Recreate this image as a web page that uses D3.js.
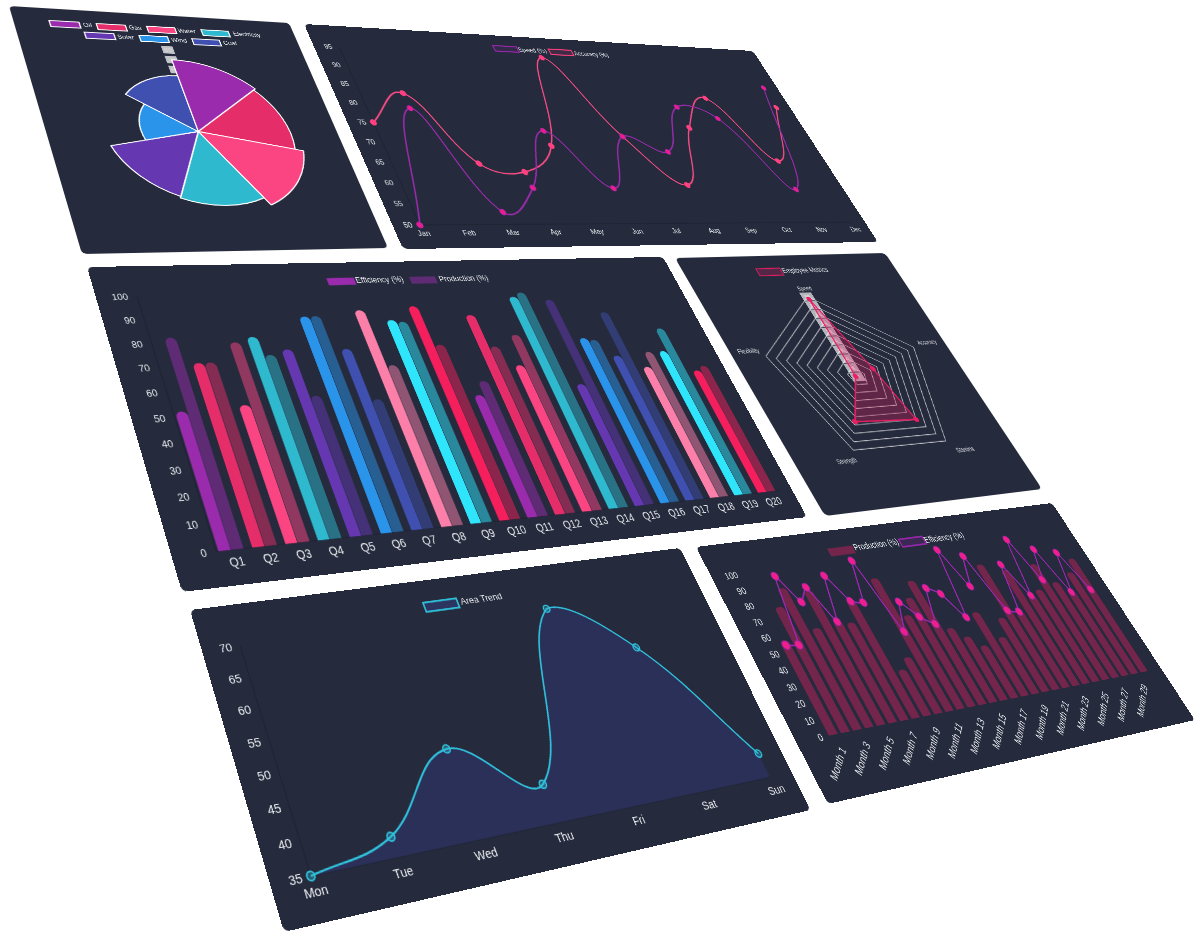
<!DOCTYPE html>
<html><head><meta charset="utf-8">
<script src="https://cdn.jsdelivr.net/npm/d3@7"></script>
<style>
html,body{margin:0;background:#fff;width:1200px;height:952px;overflow:hidden}
#stage{position:absolute;left:0;top:0;width:1200px;height:952px;filter:blur(.5px)}
.panel{position:absolute;left:0;top:0;background:#252a3c;border-radius:7px;transform-origin:0 0;overflow:hidden}
svg{display:block;font-family:"Liberation Sans",Arial,sans-serif}
text{fill:#eceef2}
</style></head><body><div id="stage"></div>
<script>
// ---------- data ----------
const polarLabels=["Oil","Gas","Water","Electricity","Solar","Wind","Coal"];
const polarValues=[70,68,74,67,65.5,40,54];
const polarTicks=[10,20,30,40,50,60,70,80];
const months12=["Jan","Feb","Mar","Apr","May","Jun","Jul","Aug","Sep","Oct","Nov","Dec"];
const speed=[50,79,53,59,74,59,73,69,82,79,59,89];
const accuracy=[75,83,65,63,70,95,73,60,76,85,67,83];
const lineTicks=[50,55,60,65,70,75,80,85,90,95];
const quarters=["Q1","Q2","Q3","Q4","Q5","Q6","Q7","Q8","Q9","Q10","Q11","Q12","Q13","Q14","Q15","Q16","Q17","Q18","Q19","Q20"];
const barEfficiency=[52,71,53,81,75,89,74,91,86,92,51,87,63,95,53,74,65,59,66,56];
const barProduction=[82,71,79,73,55,89,52,66,85,74,57,72,77,97,93,73,86,66,77,58];
const percentTicks=[0,10,20,30,40,50,60,70,80,90,100];
const radarLabels=["Speed","Accuracy","Stamina","Strength","Flexibility"];
const radarValues=[93.5,62,80,78,51];
const radarTicks=[55,60,65,70,75,80,85,90,95];
const monthLabels=d3.range(1,31).map(i=>"Month "+i);
const comboProduction=[57,77,88,61,84,63,61,75,28.5,35,86,60,70.5,81,48,41,34,55,37,49,85,51,79,60,63,80,66,58,71,80];
const comboEfficiency=[54,53,96,78,86.5,63,92,74,72,99,50.5,69,58,52,75,70,53,98.5,72,92,53,51,83,60,99,69,90,58,85.5,57.6];
const days=["Mon","Tue","Wed","Thu","Fri","Sat","Sun"];
const areaValues=[35,38,49,41,69,60,39];
const areaTicks=[35,40,45,50,55,60,65,70];
const palette=["#9a2bad","#e52d69","#fb4582","#2eb9cf","#6538b2","#2a93ea","#3f50b0","#fb7fa8","#2fe5fc","#f41f5c"];

// ---------- helpers ----------
function homography(q){const [[x0,y0],[x1,y1],[x2,y2],[x3,y3]]=q;
  const dx1=x1-x2,dx2=x3-x2,sx=x0-x1+x2-x3,dy1=y1-y2,dy2=y3-y2,sy=y0-y1+y2-y3,D=dx1*dy2-dx2*dy1;
  const g=(sx*dy2-dx2*sy)/D,h=(dx1*sy-sx*dy1)/D;
  return [x1-x0+g*x1,x3-x0+h*x3,x0,y1-y0+g*y1,y3-y0+h*y3,y0,g,h];}
function panel(q,W,H){const [a,b,c,d,e,f,g,h]=homography(q);
  const m=[a/W,d/W,0,g/W,b/H,e/H,0,h/H,0,0,1,0,c,f,0,1];
  const div=d3.select("#stage").append("div").attr("class","panel")
    .style("width",W+"px").style("height",H+"px").style("transform","matrix3d("+m.join(",")+")");
  return div.append("svg").attr("width",W).attr("height",H);}
// Spline with distance-weighted control points, capped to the plot area when bounds are given
function splineCurve(t,b){const cx=v=>b?Math.max(b[0],Math.min(b[1],v)):v,cy=v=>b?Math.max(b[2],Math.min(b[3],v)):v;
 return ctx=>{let P;return{
  lineStart(){P=[];},
  point(x,y){P.push([x,y]);},
  lineEnd(){if(!P.length)return;ctx.moveTo(P[0][0],P[0][1]);
    const cp=P.map((p,i)=>{const a=P[i-1]||p,n=P[i+1]||p,d1=Math.hypot(p[0]-a[0],p[1]-a[1]),d2=Math.hypot(n[0]-p[0],n[1]-p[1]),s=(d1+d2)||1;
      return{px:cx(p[0]-t*d1/s*(n[0]-a[0])),py:cy(p[1]-t*d1/s*(n[1]-a[1])),nx:cx(p[0]+t*d2/s*(n[0]-a[0])),ny:cy(p[1]+t*d2/s*(n[1]-a[1]))};});
    for(let i=1;i<P.length;i++)ctx.bezierCurveTo(cp[i-1].nx,cp[i-1].ny,cp[i].px,cp[i].py,P[i][0],P[i][1]);},
  areaStart(){},areaEnd(){}};};}
function label(svg,x,y,t,fs,sx){
  svg.append("text").attr("transform",`translate(${x},${y}) scale(${sx||1},1)`).attr("dy",".35em").attr("text-anchor","middle").attr("font-size",fs).text(t);}
function legend(svg,items,fs,bw,bh,sx){
  items.forEach(d=>{
    svg.append("rect").attr("x",d.bx-bw/2).attr("y",d.by-bh/2).attr("width",bw).attr("height",bh)
      .attr("fill",d.fill).attr("stroke",d.stroke||"none").attr("stroke-width",d.sw||0);
    label(svg,d.tx,d.ty,d.label,fs,sx);});}
function styleAxis(g,fs){g.select(".domain").remove();g.selectAll("line").remove();g.selectAll("text").attr("font-size",fs);}
function axisRules(svg,x0,x1,y0,y1){
  svg.append("path").attr("d",d3.line()([[x0,y1],[x0,y0],[x1,y0]])).attr("fill","none").attr("stroke","#1f2333").attr("stroke-width",1.2);}
function topRoundedBar(x,y,w,y0,r){r=Math.min(r,w/2,(y0-y));
  const p=d3.path();p.moveTo(x,y0);p.lineTo(x,y+r);p.arcTo(x,y,x+r,y,r);p.lineTo(x+w-r,y);p.arcTo(x+w,y,x+w,y+r,r);p.lineTo(x+w,y0);p.closePath();return p.toString();}

// ---------- polar area ----------
(function(){const W=440,H=470,s=panel([[9,6],[289,23],[388,248],[82,254]],W,H);
  const cx=.498*W,cy=.524*H,r=d3.scaleLinear().domain([0,80]).range([0,.36*H]);
  const g=s.append("g").attr("transform",`translate(${cx},${cy})`);
  polarTicks.forEach(t=>{
    g.append("rect").attr("x",-9).attr("y",-r(t)-8).attr("width",18).attr("height",16).attr("fill","rgba(255,255,255,.72)");
    g.append("text").attr("y",-r(t)).attr("dy",".35em").attr("text-anchor","middle").attr("font-size",11).attr("style","fill:#d8d8d8").text(t);});
  const pie=d3.pie().value(1).sort(null)(polarValues);
  const arc=d3.arc().innerRadius(0).outerRadius(d=>r(d.data));
  g.selectAll("path.seg").data(pie).join("path").attr("class","seg").attr("d",arc)
    .attr("fill",(d,i)=>palette[i]).attr("stroke","#fff").attr("stroke-width",2).attr("stroke-linejoin","round");
  const P=[[.169,.070,.245,.067],[.327,.072,.409,.067],[.502,.071,.592,.068],[.697,.073,.814,.069],[.276,.115,.364,.114],[.463,.116,.551,.116],[.650,.119,.736,.116]];
  legend(s,polarLabels.map((l,i)=>({label:l,fill:palette[i],stroke:"#fff",sw:2,bx:P[i][0]*W,by:P[i][1]*H,tx:P[i][2]*W,ty:P[i][3]*H})),13,44,13,.82);
})();

// ---------- line chart ----------
(function(){const W=800,H=350,s=panel([[304,24],[753,51],[878,242],[403,249]],W,H);
  const x=d3.scalePoint().domain(months12).range([.049*W,.964*W]);
  const y=d3.scaleLinear().domain([50,95]).range([.904*H,.105*H]);
  axisRules(s,x.range()[0],x.range()[1],y(50),y(95));
  s.append("g").attr("transform",`translate(${x.range()[0]},0)`).call(d3.axisLeft(y).tickValues(lineTicks).tickSize(0).tickPadding(11)).call(g=>styleAxis(g,11));
  s.append("g").attr("transform",`translate(0,${y(50)})`).call(d3.axisBottom(x).tickSize(0).tickPadding(8)).call(g=>styleAxis(g,11));
  const line=d3.line().x((d,i)=>x(months12[i])).y(d=>y(d)).curve(splineCurve(.4,[x.range()[0],x.range()[1],y(95),y(50)]));
  [[accuracy,"#f74d86","#ff4081","#ff4081"],[speed,"#9a2bad","#9c27b0","#e91e8c"]].forEach(([v,c,sc,pc])=>{
    s.append("path").attr("d",line(v)).attr("fill","none").attr("stroke",c).attr("stroke-width",2.2);
    s.selectAll(null).data(v).join("circle").attr("cx",(d,i)=>x(months12[i])).attr("cy",d=>y(d)).attr("r",4.5).attr("fill",pc).attr("stroke",sc).attr("stroke-width",1);
  });
  legend(s,[{label:"Speed (%)",fill:"rgba(156,39,176,.12)",stroke:"#9c27b0",sw:2,bx:.395*W,by:.069*H,tx:.453*W,ty:.070*H},
            {label:"Accuracy (%)",fill:"rgba(255,64,129,.12)",stroke:"#ff4081",sw:2,bx:.516*W,by:.071*H,tx:.584*W,ty:.071*H}],10.5,41,10);
})();

// ---------- grouped bars ----------
(function(){const W=900,H=410,s=panel([[87,267],[663,257],[807,517],[182,592]],W,H);
  const x=d3.scaleBand().domain(quarters).range([.059*W,.977*W]);
  const bw=x.bandwidth();
  const x1=d3.scaleBand().domain([0,1]).range([.06*bw,.8*bw]).paddingInner(.04);
  const y=d3.scaleLinear().domain([0,100]).range([.903*H,.107*H]);
  axisRules(s,x.range()[0],x.range()[1],y(0),y(100));
  s.append("g").attr("transform",`translate(${x.range()[0]},0)`).call(d3.axisLeft(y).tickValues(percentTicks).tickSize(0).tickPadding(12)).call(g=>styleAxis(g,12.5));
  s.append("g").attr("transform",`translate(0,${y(0)})`).call(d3.axisBottom(x).tickSize(0).tickPadding(9)).call(g=>styleAxis(g,14));
  [[barEfficiency,0,1],[barProduction,1,.5]].forEach(([v,k,o])=>{
    s.selectAll(null).data(v).join("path")
      .attr("d",(d,i)=>topRoundedBar(x(quarters[i])+x1(k),y(d),x1.bandwidth(),y(0),7))
      .attr("fill",(d,i)=>palette[i%palette.length]).attr("fill-opacity",o);});
  legend(s,[{label:"Efficiency (%)",fill:palette[0],bx:.382*W,by:.071*H,tx:.447*W,ty:.069*H},
            {label:"Production (%)",fill:"rgba(154,43,173,.5)",bx:.522*W,by:.073*H,tx:.594*W,ty:.070*H}],12,41,11);
})();

// ---------- radar ----------
(function(){const W=360,H=391,s=panel([[675,258],[885,253],[1042,489],[825,516]],W,H);
  const cx=.489*W,cy=.515*H,r=d3.scaleLinear().domain([50,95]).range([0,.335*H]);
  const a=d3.scalePoint().domain(radarLabels).range([0,2*Math.PI*4/5]);
  const g=s.append("g").attr("transform",`translate(${cx},${cy})`);
  const ring=d3.lineRadial().angle(l=>a(l)).curve(d3.curveLinearClosed);
  radarTicks.forEach(t=>{g.append("path").attr("d",ring.radius(()=>r(t))(radarLabels)).attr("fill","none").attr("stroke","rgba(255,255,255,.72)").attr("stroke-width",1.2);});
  radarTicks.concat([50]).forEach(t=>{
    g.append("rect").attr("x",-10).attr("y",-r(t)-6.8).attr("width",20).attr("height",13.6).attr("fill","rgba(255,255,255,.66)");
    g.append("text").attr("y",-r(t)).attr("dy",".35em").attr("text-anchor","middle").attr("font-size",8).attr("style","fill:#eee").text(t);});
  const area=d3.lineRadial().angle((d,i)=>a(radarLabels[i])).radius(d=>r(d)).curve(d3.curveLinearClosed);
  g.append("path").attr("d",area(radarValues)).attr("fill","rgba(233,30,99,.3)").attr("stroke","#e91e63").attr("stroke-width",2.2);
  g.selectAll("circle").data(radarValues).join("circle")
    .attr("cx",(d,i)=>r(d)*Math.sin(a(radarLabels[i]))).attr("cy",(d,i)=>-r(d)*Math.cos(a(radarLabels[i]))).attr("r",4).attr("fill","#e91e63");
  const L=[[.498,.145],[.915,.394],[.766,.824],[.220,.821],[.081,.387]];
  radarLabels.forEach((l,i)=>label(s,L[i][0]*W,L[i][1]*H,l,10,.82));
  legend(s,[{label:"Employee Metrics",fill:"rgba(233,30,99,.25)",stroke:"#e91e63",sw:1.5,bx:.386*W,by:.070*H,tx:.555*W,ty:.066*H}],12,40,12,.82);
})();

// ---------- combo ----------
(function(){const W=780,H=380,s=panel([[696,547],[1052,503],[1195,720],[828,804]],W,H);
  const x=d3.scaleBand().domain(monthLabels).range([.074*W,.962*W]).paddingInner(.27).paddingOuter(.135);
  const y=d3.scaleLinear().domain([0,100]).range([.776*H,.132*H]);
  s.append("g").attr("transform",`translate(${.074*W},0)`).call(d3.axisLeft(y).tickValues(percentTicks).tickSize(0).tickPadding(9)).call(g=>styleAxis(g,14.5));
  const gx=s.append("g").attr("transform",`translate(0,${y(0)})`).call(d3.axisBottom(x).tickValues(monthLabels.filter((d,i)=>i%2==0)).tickSize(0)).call(g=>styleAxis(g,16));
  gx.selectAll("text").attr("text-anchor","end").attr("dy","0.3em").attr("y",0).attr("transform","translate(5,20) rotate(-40)");
  s.selectAll(null).data(comboProduction).join("path")
    .attr("d",(d,i)=>topRoundedBar(x(monthLabels[i]),y(d),x.bandwidth(),y(0),6)).attr("fill","rgba(233,30,99,.4)");
  const cx=i=>x(monthLabels[i])+x.bandwidth()/2;
  s.append("path").attr("d",d3.line().x((d,i)=>cx(i)).y(d=>y(d)).curve(splineCurve(.1))(comboEfficiency)).attr("fill","none").attr("stroke","#9c27b0").attr("stroke-width",2.6);
  s.selectAll(null).data(comboEfficiency).join("circle").attr("cx",(d,i)=>cx(i)).attr("cy",d=>y(d)).attr("r",6.5).attr("fill","#ee1e8c").attr("stroke","rgba(156,39,176,.8)").attr("stroke-width",1.5);
  legend(s,[{label:"Production (%)",fill:"rgba(233,30,99,.4)",bx:.344*W,by:.092*H,tx:.441*W,ty:.083*H},
            {label:"Efficiency (%)",fill:"rgba(156,39,176,.2)",stroke:"#9c27b0",sw:2.5,bx:.540*W,by:.092*H,tx:.631*W,ty:.092*H}],14.5,52,13);
})();

// ---------- area ----------
(function(){const W=780,H=380,s=panel([[190,610],[680,548],[810.6,810],[284,932]],W,H);
  const x=d3.scalePoint().domain(days).range([.066*W,.95*W]);
  const y=d3.scaleLinear().domain([35,70]).range([.868*H,.142*H]);
  axisRules(s,x.range()[0],x.range()[1],y(35),y(70));
  s.append("g").attr("transform",`translate(${x.range()[0]},0)`).call(d3.axisLeft(y).tickValues(areaTicks).tickSize(0).tickPadding(11)).call(g=>styleAxis(g,15.5));
  s.append("g").attr("transform",`translate(0,${y(35)})`).call(d3.axisBottom(x).tickSize(0).tickPadding(11)).call(g=>styleAxis(g,15.5));
  const line=d3.line().x((d,i)=>x(days[i])).y(d=>y(d)).curve(splineCurve(.4,[x.range()[0],x.range()[1],y(70),y(35)]));
  const d=line(areaValues);
  s.append("path").attr("d",d+`L${x.range()[1]},${y(35)}L${x.range()[0]},${y(35)}Z`).attr("fill","#2b3059");
  s.append("path").attr("d",d).attr("fill","none").attr("stroke","#30c2dc").attr("stroke-width",2.4);
  s.selectAll(null).data(areaValues).join("circle").attr("cx",(v,i)=>x(days[i])).attr("cy",v=>y(v)).attr("r",5).attr("fill","rgba(45,188,213,.35)").attr("stroke","#30c2dc").attr("stroke-width",2);
  legend(s,[{label:"Area Trend",fill:"rgba(63,81,181,.3)",stroke:"#30c2dc",sw:2.5,bx:.452*W,by:.097*H,tx:.534*W,ty:.092*H}],13.5,52,13);
})();
</script></body></html>
